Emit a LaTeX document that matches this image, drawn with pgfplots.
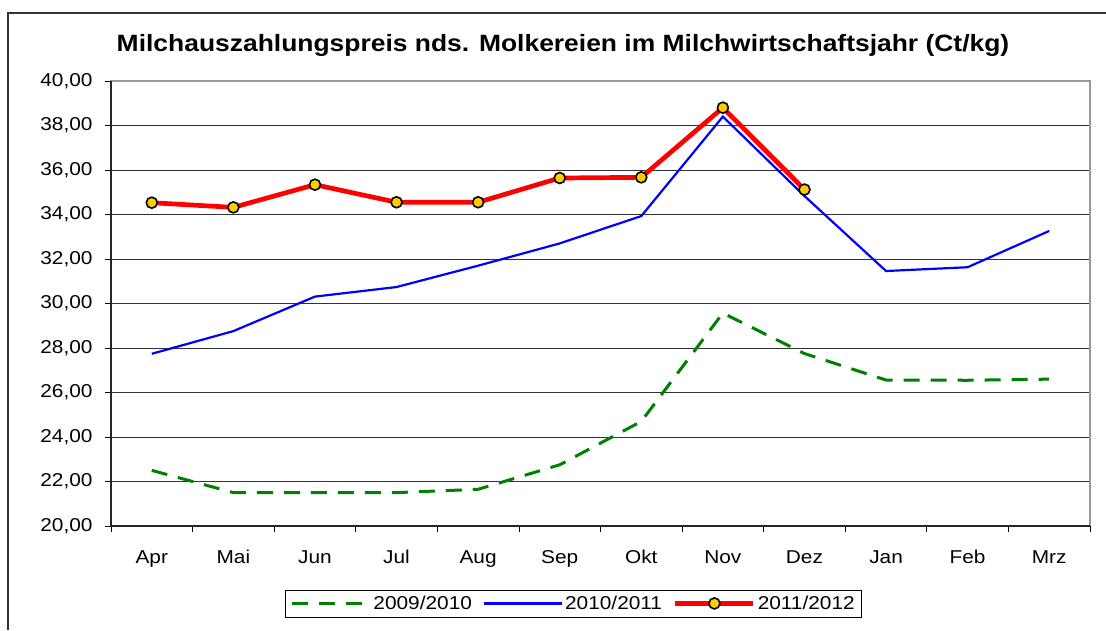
\documentclass[border=0pt]{standalone}
\usepackage{pgfplots}
\pgfplotsset{compat=1.18}
\usepackage{fontspec}
\setmainfont{Liberation Sans}[FakeStretch=1.12]
\definecolor{xgreen}{RGB}{0,128,0}
\definecolor{xblue}{RGB}{0,0,255}
\definecolor{xred}{RGB}{255,0,0}
\definecolor{xyellow}{RGB}{255,204,0}
\begin{document}
\begin{tikzpicture}[x=1pt,y=1pt]
\useasboundingbox (0,0) rectangle (1106,630);
\draw[line width=1.3pt, black!80] (8,0) -- (8,617) -- (1106,617);
\node[font=\fontsize{23.6}{27}\selectfont\bfseries, anchor=base] at (563,578.3) {Milchauszahlungspreis nds. Molkereien im Milchwirtschaftsjahr (Ct/kg)};
\begin{axis}[
  at={(111pt,104pt)}, anchor=south west,
  scale only axis, width=979pt, height=445pt,
  xmin=-0.5, xmax=11.5, ymin=20, ymax=40,
  xtick={0,...,11},
  xticklabels={Apr,Mai,Jun,Jul,Aug,Sep,Okt,Nov,Dez,Jan,Feb,Mrz},
  x tick style={draw=none},
  extra x ticks={-0.5,0.5,...,11.5},
  extra x tick labels={},
  extra x tick style={x tick style={draw=black, line width=0.8pt}, major tick length=6pt, tick align=outside},
  ytick={20,22,...,40},
  y tick style={draw=black, line width=0.8pt},
  tick align=outside, major tick length=6pt,
  xtick pos=left, ytick pos=left,
  ymajorgrids, grid style={black!80, line width=0.8pt},
  axis line style={gray!80, line width=1.3pt},
  /pgf/number format/.cd, fixed, fixed zerofill, precision=2, use comma, assume math mode=true,
  /pgfplots/.cd,
  ticklabel style={font=\fontsize{18.6}{22}\selectfont},
  xticklabel style={anchor=base, yshift=-31pt},
  yticklabel style={xshift=-9pt},
  legend columns=3,
  legend style={at={(0.4725,-0.174)}, anchor=center, draw=black, line width=0.8pt,
    font=\fontsize{18.6}{22}\selectfont, inner xsep=5pt, inner ysep=4pt,
    /tikz/every even column/.append style={column sep=9pt}},
  legend image code/.code={
    \draw[#1, mark=none] (0pt,0pt) -- (78pt,0pt);
    \draw[#1, only marks] plot coordinates {(39pt,0pt)};
  },
  after end axis/.code={
    \draw[black!85, line width=1.3pt] (rel axis cs:0,1) -- (rel axis cs:0,0) -- (rel axis cs:1,0);
  },
]
\addplot[xgreen, line width=3pt, dash pattern=on 16pt off 11pt] coordinates {
 (0,22.5) (1,21.5) (2,21.5) (3,21.5) (4,21.65) (5,22.75) (6,24.7) (7,29.57) (8,27.75) (9,26.56) (10,26.55) (11,26.6)};
\addlegendentry{2009/2010}
\addplot[xblue, line width=2.2pt] coordinates {
 (0,27.74) (1,28.76) (2,30.31) (3,30.74) (4,31.7) (5,32.7) (6,33.93) (7,38.4) (8,34.83) (9,31.46) (10,31.63) (11,33.26)};
\addlegendentry{2010/2011}
\addplot[xred, line width=4.7pt, mark=*, mark size=5.5pt, mark options={fill=xyellow, draw=black, line width=1.6pt}] coordinates {
 (0,34.53) (1,34.32) (2,35.34) (3,34.55) (4,34.55) (5,35.64) (6,35.67) (7,38.8) (8,35.12)};
\addlegendentry{2011/2012}
\end{axis}
\end{tikzpicture}
\end{document}
